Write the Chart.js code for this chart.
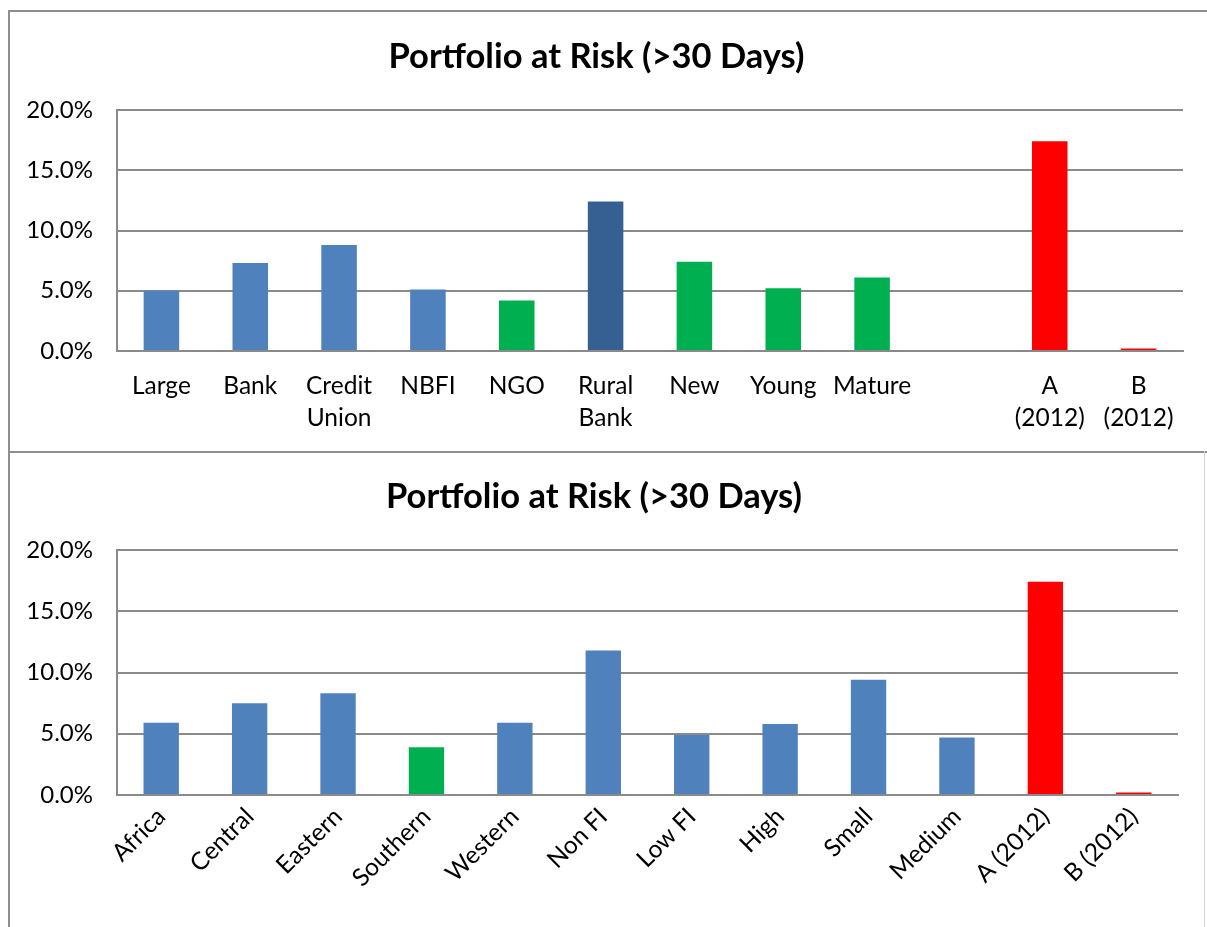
<!DOCTYPE html>
<html>
<head>
<meta charset="utf-8">
<title>Portfolio at Risk</title>
<script src="https://cdn.jsdelivr.net/npm/chart.js@4.4.1/dist/chart.umd.min.js"></script>
<style>
  html, body { margin: 0; padding: 0; background: #fff; overflow: hidden; }
  .frame { position: absolute; box-sizing: border-box; }
  #frameTop { left: 8px; top: 10px; width: 1230px; height: 443px; border: 2px solid #8e8e8e; }
  #frameBottom { left: 8px; top: 451px; width: 1197px; height: 500px; border-left: 2px solid #8e8e8e; border-right: 1px solid #d4d4d4; }
  .holder { position: absolute; }
  #holderTop { left: 10px; top: 12px; width: 1197px; height: 438px; }
  #holderBottom { left: 10px; top: 452px; width: 1193px; height: 475px; }
</style>
</head>
<body>
<div class="frame" id="frameTop"></div>
<div class="frame" id="frameBottom"></div>
<div class="holder" id="holderTop"><canvas id="parTop"></canvas></div>
<div class="holder" id="holderBottom"><canvas id="parBottom"></canvas></div>
<script>
// PAR > 30 days, in percent
var topLabels = ["Large", "Bank", ["Credit", "Union"], "NBFI", "NGO", ["Rural", "Bank"], "New", "Young", "Mature", "", ["A", "(2012)"], ["B", "(2012)"]];
var topValues = [5.0, 7.3, 8.8, 5.1, 4.2, 12.4, 7.4, 5.2, 6.1, null, 17.4, 0.2];

var bottomLabels = ["Africa", "Central", "Eastern", "Southern", "Western", "Non FI", "Low FI", "High", "Small", "Medium", "A (2012)", "B (2012)"];
var bottomValues = [5.9, 7.5, 8.3, 3.9, 5.9, 11.8, 4.9, 5.8, 9.4, 4.7, 17.4, 0.2];

var yTicks = [0, 5, 10, 15, 20];

var blue = "#4f81bd", darkBlue = "#366092", green = "#00b050", red = "#ff0000";
var topColors = [blue, blue, blue, blue, green, darkBlue, green, green, green, blue, red, red];
var bottomColors = [blue, blue, blue, green, blue, blue, blue, blue, blue, blue, red, red];

var FONT = "Lato, 'Noto Sans', sans-serif";
var GRID = "#8a8a8a";

function makeChart(id, labels, values, colors, opts) {
    var ctx = document.getElementById(id).getContext("2d");
    return new Chart(ctx, {
        type: "bar",
        data: {
            labels: labels,
            datasets: [{
                data: values,
                backgroundColor: colors,
                borderWidth: 0,
                categoryPercentage: 1.0,
                barPercentage: 0.4
            }]
        },
        options: {
            responsive: true,
            maintainAspectRatio: false,
            animation: false,
            layout: { padding: { left: 0, right: opts.rightPad, top: 0, bottom: 0 } },
            plugins: {
                legend: { display: false },
                tooltip: { enabled: false },
                title: {
                    display: true,
                    text: "Portfolio at Risk (>30 Days)",
                    color: "#000",
                    font: { family: FONT, size: 34.5, weight: "bold", lineHeight: 1.2 },
                    padding: { top: 24, bottom: 32.6 }
                }
            },
            scales: {
                x: {
                    grid: { display: false, drawTicks: false },
                    border: { display: true, color: GRID, width: 2 },
                    ticks: {
                        color: "#000",
                        font: { family: FONT, size: 24.5, lineHeight: 1.32 },
                        padding: opts.xPad,
                        autoSkip: false,
                        maxRotation: opts.rotation,
                        minRotation: opts.rotation
                    },
                    afterFit: function(scale) {
                        scale.height = opts.xHeight;
                        scale.paddingLeft = 0;
                        scale.paddingRight = 0;
                    }
                },
                y: {
                    min: 0,
                    max: 20,
                    afterBuildTicks: function(scale) {
                        scale.ticks = yTicks.map(function(v) { return { value: v }; });
                    },
                    grid: { color: GRID, lineWidth: 2, drawTicks: false },
                    border: { display: true, color: GRID, width: 2 },
                    ticks: {
                        color: "#000",
                        font: { family: FONT, size: 24 },
                        padding: 24,
                        callback: function(v) { return v.toFixed(1) + "%"; }
                    },
                    afterFit: function(scale) { scale.width = 107; }
                }
            }
        }
    });
}

makeChart("parTop", topLabels, topValues, topColors, { rightPad: 24, xHeight: 99, xPad: 19, rotation: 0 });
makeChart("parBottom", bottomLabels, bottomValues, bottomColors, { rightPad: 25, xHeight: 132, xPad: 6, rotation: 45 });
</script>
</body>
</html>
